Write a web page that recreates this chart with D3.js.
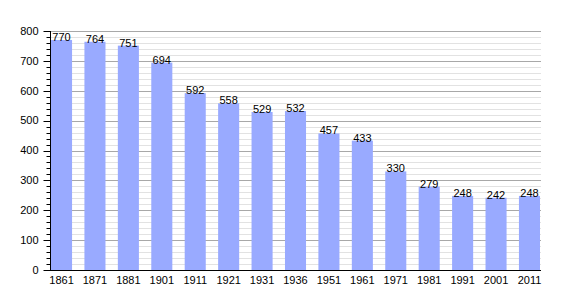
<!DOCTYPE html>
<html>
<head>
<meta charset="utf-8">
<script src="https://cdn.jsdelivr.net/npm/d3@7"></script>
<style>
  body { margin: 0; background: #fff; }
  text { font-family: "Liberation Sans", Arial, sans-serif; font-size: 11px; fill: #000; }
</style>
</head>
<body>
<script>
let years = ["1861", "1871", "1881", "1901", "1911", "1921", "1931", "1936",
             "1951", "1961", "1971", "1981", "1991", "2001", "2011"];
let population = [770, 764, 751, 694, 592, 558, 529, 532, 457, 433, 330, 279, 248, 242, 248];
let majorTicks = [0, 100, 200, 300, 400, 500, 600, 700, 800];

let width = 570, height = 300;
let plotLeft = 50, plotRight = 540, plotTop = 31, plotBottom = 270;

let svg = d3.select("body").append("svg")
    .attr("width", width)
    .attr("height", height);

let x = d3.scaleBand()
    .domain(years)
    .range([plotLeft + 1, plotRight])
    .paddingInner(0.37)
    .paddingOuter(0);

let y = d3.scaleLinear()
    .domain([0, 800])
    .range([plotBottom, plotTop]);

// minor grid every 20
let minor = d3.range(0, 801, 20).filter(v => v % 100 !== 0);
svg.append("g").selectAll("line")
    .data(minor)
    .enter().append("line")
    .attr("x1", plotLeft).attr("x2", plotRight + 1)
    .attr("y1", d => Math.round(y(d)) + 0.5).attr("y2", d => Math.round(y(d)) + 0.5)
    .attr("stroke", "#e2e2e2");

svg.append("g").selectAll("line")
    .data(majorTicks.slice(1))
    .enter().append("line")
    .attr("x1", plotLeft).attr("x2", plotRight + 1)
    .attr("y1", d => Math.round(y(d)) + 0.5).attr("y2", d => Math.round(y(d)) + 0.5)
    .attr("stroke", "#a8a8a8");

// bars
svg.append("g").selectAll("rect")
    .data(population)
    .enter().append("rect")
    .attr("x", (d, i) => x(years[i]))
    .attr("width", x.bandwidth())
    .attr("y", d => y(d))
    .attr("height", d => y(0) - y(d))
    .attr("fill", "#99aaff");

// value labels
svg.append("g").selectAll("text")
    .data(population)
    .enter().append("text")
    .attr("x", (d, i) => x(years[i]) + x.bandwidth() / 2)
    .attr("y", d => y(d) + 1)
    .attr("text-anchor", "middle")
    .text(d => d);

// y axis
let yAxis = svg.append("g").attr("transform", "translate(" + (plotLeft + 0.5) + ",0)");
yAxis.append("line")
    .attr("x1", 0).attr("x2", 0)
    .attr("y1", plotTop).attr("y2", plotBottom)
    .attr("stroke", "#000");
yAxis.selectAll(".minor")
    .data(minor)
    .enter().append("line")
    .attr("x1", -4).attr("x2", 0)
    .attr("y1", d => Math.round(y(d)) + 0.5).attr("y2", d => Math.round(y(d)) + 0.5)
    .attr("stroke", "#000");
yAxis.selectAll(".major")
    .data(majorTicks)
    .enter().append("line")
    .attr("x1", -7).attr("x2", 0)
    .attr("y1", d => Math.round(y(d)) + 0.5).attr("y2", d => Math.round(y(d)) + 0.5)
    .attr("stroke", "#000");
yAxis.selectAll("text")
    .data(majorTicks)
    .enter().append("text")
    .attr("x", -12)
    .attr("y", d => y(d))
    .attr("dy", "0.35em")
    .attr("text-anchor", "end")
    .text(d => d);

// x axis
svg.append("line")
    .attr("x1", plotLeft).attr("x2", plotRight + 1)
    .attr("y1", plotBottom + 0.5).attr("y2", plotBottom + 0.5)
    .attr("stroke", "#000");
svg.append("g").selectAll("text")
    .data(years)
    .enter().append("text")
    .attr("x", d => x(d) + x.bandwidth() / 2)
    .attr("y", plotBottom + 14)
    .attr("text-anchor", "middle")
    .text(d => d);
</script>
</body>
</html>
